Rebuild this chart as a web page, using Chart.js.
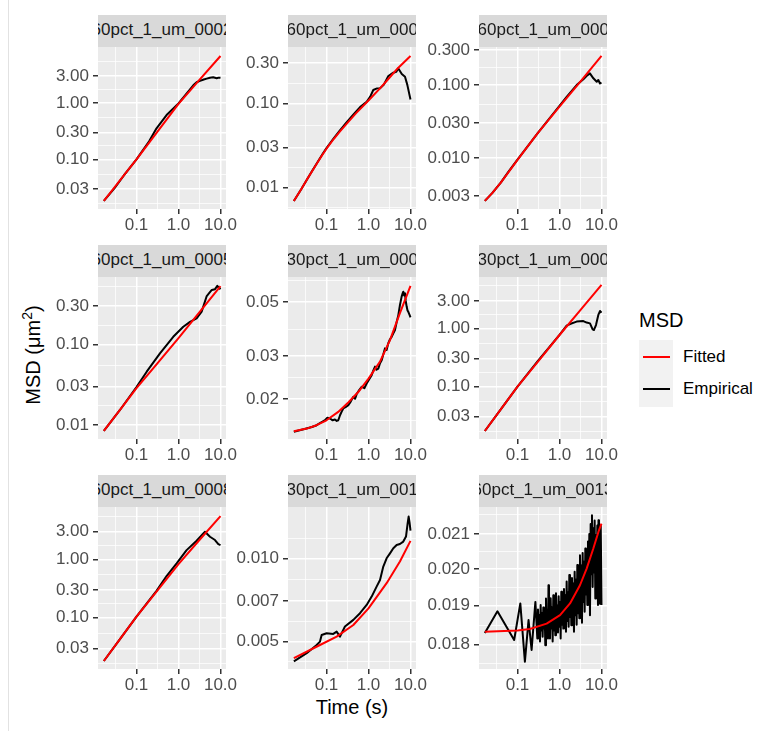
<!DOCTYPE html>
<html><head><meta charset="utf-8">
<script src="https://cdn.jsdelivr.net/npm/chart.js@4.4.1/dist/chart.umd.min.js"></script>
<style>
html,body{margin:0;padding:0;background:#fff;}
body{width:763px;height:731px;position:relative;overflow:hidden;font-family:"Liberation Sans",Arial,Helvetica,sans-serif;}
.strip{position:absolute;height:32px;background:#D9D9D9;overflow:hidden;display:flex;justify-content:center;align-items:center;color:#1A1A1A;font-size:17px;white-space:nowrap;box-sizing:border-box;padding-bottom:2px;z-index:2;}
.strip span{flex:none;}
canvas{position:absolute;z-index:1;}
.txt{position:absolute;white-space:nowrap;}
</style></head><body>
<div style="position:absolute;left:8px;top:0;width:1px;height:731px;background:#E2E2E2;"></div>
<script>
// ---------------- data ----------------
const panelLabels = ["60pct_1_um_0002","60pct_1_um_0003","60pct_1_um_0004",
                     "60pct_1_um_0005","30pct_1_um_0006","30pct_1_um_0007",
                     "60pct_1_um_0008","30pct_1_um_0010","60pct_1_um_0013"];

const xTicks = [0.1, 1, 10];
const xTickLabels = ["0.1", "1.0", "10.0"];
const xRange = [0.01212, 13.52];

// panel 1
const p1FitT = [0.0167, 0.03, 0.05, 0.1, 0.3, 1, 3, 10];
const p1FitV = [0.0184, 0.032, 0.052, 0.10, 0.294, 0.96, 2.45, 6.78];
const p1EmpT = [0.0167, 0.03, 0.05, 0.1, 0.2, 0.3, 0.52, 1.0, 1.57, 2.25, 2.7, 3.25, 4.0, 4.7, 5.6, 6.7, 8.1, 9.0, 10];
const p1EmpV = [0.0184, 0.031, 0.052, 0.10, 0.21, 0.356, 0.61, 0.98, 1.48, 2.05, 2.32, 2.45, 2.6, 2.69, 2.78, 2.84, 2.73, 2.8, 2.78];
const p1Ticks = [0.03, 0.1, 0.3, 1, 3];
const p1TickLabels = ["0.03", "0.10", "0.30", "1.00", "3.00"];
const p1Range = [0.01327, 9.77];

// panel 2
const p2FitT = [0.0167, 0.025, 0.0338, 0.045, 0.06, 0.08, 0.1, 0.15, 0.2, 0.3, 0.5, 1, 2, 3, 5, 10];
const p2FitV = [0.00698, 0.0096, 0.0124, 0.0156, 0.0196, 0.0246, 0.029, 0.038, 0.0453, 0.057, 0.076, 0.108, 0.155, 0.195, 0.26, 0.363];
const p2EmpT = [0.0167, 0.025, 0.0338, 0.045, 0.06, 0.08, 0.1, 0.15, 0.2, 0.3, 0.45, 0.63, 0.905, 1.1, 1.3, 1.6, 1.88, 2.3, 2.97, 3.9, 4.6, 5.1, 6.2, 7.4, 8.4, 10];
const p2EmpV = [0.00698, 0.0096, 0.0124, 0.0157, 0.0198, 0.0249, 0.0295, 0.0388, 0.0465, 0.0595, 0.075, 0.09, 0.104, 0.12, 0.1435, 0.15, 0.151, 0.165, 0.21, 0.23, 0.235, 0.26, 0.222, 0.206, 0.165, 0.111];
const p2Ticks = [0.01, 0.03, 0.1, 0.3];
const p2TickLabels = ["0.01", "0.03", "0.10", "0.30"];
const p2Range = [0.00561, 0.463];

// panel 3
const p3FitT = [0.0167, 0.025, 0.04, 0.06, 0.1, 0.3, 1, 3, 10];
const p3FitV = [0.00258, 0.0033, 0.0046, 0.0063, 0.0094, 0.0218, 0.0505, 0.1076, 0.25];
const p3EmpT = [0.0167, 0.025, 0.04, 0.06, 0.1, 0.3, 1, 1.48, 2.56, 3.7, 4.4, 5.3, 6.4, 7.7, 8.4, 9.2, 10];
const p3EmpV = [0.00258, 0.0033, 0.0046, 0.0064, 0.0095, 0.0218, 0.052, 0.069, 0.1, 0.12, 0.133, 0.1445, 0.1236, 0.111, 0.117, 0.105, 0.1077];
const p3Ticks = [0.003, 0.01, 0.03, 0.1, 0.3];
const p3TickLabels = ["0.003", "0.010", "0.030", "0.100", "0.300"];
const p3Range = [0.0020, 0.332];

// panel 4
const p4FitT = [0.0167, 0.04, 0.1, 0.3, 1, 3, 10];
const p4FitV = [0.0084, 0.0152, 0.0285, 0.0562, 0.119, 0.242, 0.528];
const p4EmpT = [0.0167, 0.04, 0.1, 0.175, 0.362, 0.75, 1.3, 1.88, 2.7, 3.56, 4.7, 6.2, 7.4, 8.4, 10];
const p4EmpV = [0.0084, 0.0152, 0.0295, 0.0457, 0.0773, 0.124, 0.165, 0.19, 0.21, 0.254, 0.397, 0.472, 0.483, 0.53, 0.483];
const p4Ticks = [0.01, 0.03, 0.1, 0.3];
const p4TickLabels = ["0.01", "0.03", "0.10", "0.30"];
const p4Range = [0.00668, 0.684];

// panel 5
const p5FitT = [0.0167, 0.034, 0.058, 0.1, 0.19, 0.33, 0.57, 1, 1.88, 3.25, 5.6, 10];
const p5FitV = [0.0148, 0.01517, 0.01566, 0.0164, 0.01775, 0.0194, 0.0214, 0.0243, 0.0285, 0.0349, 0.045, 0.0582];
const p5EmpT = [0.0167, 0.03, 0.045, 0.0584, 0.075, 0.092, 0.105, 0.121, 0.14, 0.159, 0.175, 0.191, 0.21, 0.23, 0.251, 0.29, 0.331, 0.38, 0.436, 0.48, 0.523, 0.6, 0.687, 0.8, 0.904, 1.05, 1.19, 1.3, 1.43, 1.55, 1.71, 1.88, 2.06, 2.25, 2.47, 2.7, 2.96, 3.25, 3.56, 3.9, 4.27, 4.7, 5.13, 5.6, 6.15, 6.45, 6.74, 7.05, 7.39, 7.7, 8.1, 8.5, 8.87, 9.4, 10];
const p5EmpV = [0.01472, 0.0151, 0.0154, 0.01566, 0.0161, 0.01641, 0.0168, 0.01668, 0.0164, 0.01652, 0.0163, 0.01641, 0.0172, 0.0178, 0.01833, 0.0186, 0.01892, 0.0196, 0.02047, 0.0201, 0.021, 0.0218, 0.0225, 0.0222, 0.0232, 0.0242, 0.0251, 0.0262, 0.0272, 0.0264, 0.0267, 0.0281, 0.0289, 0.0305, 0.0323, 0.0318, 0.0339, 0.0352, 0.036, 0.0372, 0.0384, 0.0415, 0.0442, 0.0485, 0.0526, 0.0541, 0.0551, 0.0532, 0.0543, 0.0505, 0.0479, 0.0462, 0.0456, 0.0445, 0.0433];
const p5Ticks = [0.02, 0.03, 0.05];
const p5TickLabels = ["0.02", "0.03", "0.05"];
const p5Range = [0.01375, 0.0633];

// panel 6
const p6FitT = [0.0167, 0.04, 0.1, 0.3, 1, 3, 10];
const p6FitV = [0.0169, 0.0401, 0.099, 0.264, 0.774, 2.0, 5.68];
const p6EmpT = [0.0167, 0.04, 0.1, 0.3, 1, 1.48, 1.78, 2.56, 3.69, 4.43, 5.32, 6.15, 6.62, 7.39, 8.4, 9.2, 10];
const p6EmpV = [0.0169, 0.0401, 0.099, 0.27, 0.78, 1.12, 1.2, 1.32, 1.35, 1.27, 1.23, 0.97, 0.945, 1.15, 1.72, 2.01, 1.88];
const p6Ticks = [0.03, 0.1, 0.3, 1, 3];
const p6TickLabels = ["0.03", "0.10", "0.30", "1.00", "3.00"];
const p6Range = [0.0123, 7.8];

// panel 7
const p7FitT = [0.0167, 0.04, 0.1, 0.3, 1, 3, 10];
const p7FitV = [0.01816, 0.0427, 0.1045, 0.282, 0.835, 2.08, 5.57];
const p7EmpT = [0.0167, 0.04, 0.1, 0.3, 0.52, 0.904, 1.56, 2.7, 4.27, 5.62, 7.39, 8.87, 10];
const p7EmpV = [0.01816, 0.0427, 0.1045, 0.29, 0.521, 0.859, 1.45, 2.1, 3.0, 2.46, 2.16, 1.84, 1.77];
const p7Ticks = [0.03, 0.1, 0.3, 1, 3];
const p7TickLabels = ["0.03", "0.10", "0.30", "1.00", "3.00"];
const p7Range = [0.01323, 7.96];

// panel 8
const p8FitT = [0.0167, 0.07, 0.1745, 0.4355, 1, 2.7, 5.6, 10];
const p8FitV = [0.004355, 0.00486, 0.00521, 0.00574, 0.00659, 0.00813, 0.00973, 0.01156];
const p8EmpT = [0.0167, 0.0337, 0.0584, 0.07, 0.0767, 0.101, 0.145, 0.1745, 0.2096, 0.275, 0.4355, 0.627, 0.904, 1.19, 1.56, 1.88, 2.25, 2.7, 3.25, 3.9, 4.68, 5.6, 6.74, 7.81, 8.55, 9.03, 9.55, 10];
const p8EmpV = [0.00424, 0.00454, 0.00486, 0.0050, 0.00528, 0.00536, 0.00533, 0.00543, 0.00521, 0.00567, 0.00599, 0.00633, 0.00678, 0.00727, 0.0079, 0.00835, 0.00933, 0.0100, 0.01042, 0.01087, 0.01117, 0.01126, 0.01149, 0.01198, 0.01338, 0.01415, 0.01338, 0.01259];
const p8Ticks = [0.005, 0.007, 0.01];
const p8TickLabels = ["0.005", "0.007", "0.010"];
const p8Range = [0.00398, 0.01532];

// panel 9
const p9FitT = [0.0167, 0.1, 0.197, 0.494, 1.03, 1.78, 3.07, 4.43, 6.39, 8.48, 10];
const p9FitV = [0.01832, 0.01835, 0.01839, 0.01853, 0.01875, 0.01906, 0.01955, 0.02001, 0.02058, 0.02107, 0.02131];
const p9EmpT = [0.0167, 0.0333, 0.0833, 0.1167, 0.15, 0.1833, 0.2167, 0.2667,
  0.2964, 0.3075, 0.3189, 0.3308, 0.3431, 0.3559, 0.3691, 0.3828, 0.3971, 0.4119, 0.4272, 0.4431, 0.4596, 0.4767, 0.4944, 0.5128, 0.5319, 0.5467, 0.5619, 0.5775,
  0.5936, 0.6157, 0.6386, 0.6624, 0.6871, 0.7127, 0.7392, 0.7667, 0.7953, 0.8249, 0.8555, 0.8874, 0.9204, 0.9547, 0.9902, 1.0271, 1.0653, 1.1049, 1.1461, 1.1887,
  1.2329, 1.2788, 1.3264, 1.3758, 1.427, 1.4801, 1.5352, 1.5923, 1.6516, 1.713, 1.7769, 1.8431, 1.9116, 1.9828,
  2.0566, 2.1331, 2.2125, 2.2949, 2.3803, 2.4689, 2.5607, 2.656, 2.7551, 2.8577, 2.964,
  3.0743, 3.1887, 3.3074, 3.4307, 3.5584, 3.6908, 3.8282, 3.9707, 4.1185, 4.2717, 4.4307, 4.5957, 4.7668, 4.9442,
  5.1283, 5.3192, 5.5173, 5.7225, 5.9356, 6.1566, 6.3858, 6.6235, 6.8701, 7.1258, 7.3911, 7.6662, 7.9514, 8.2475, 8.4763, 8.7124, 8.9546, 9.2034, 9.5935, 10];
const p9EmpV = [0.01829, 0.01885, 0.01811, 0.01906, 0.01757, 0.01862, 0.01786, 0.0191,
  0.01815, 0.0189, 0.0183, 0.01875, 0.01807, 0.01902, 0.01835, 0.0188, 0.01819, 0.01895, 0.0184, 0.01884, 0.01798, 0.01919, 0.0183, 0.0189, 0.01815, 0.01955, 0.01845, 0.019,
  0.01815, 0.0192, 0.0184, 0.01895, 0.01807, 0.01928, 0.01835, 0.01905, 0.01823, 0.01933, 0.0185, 0.019, 0.0183, 0.01925, 0.01845, 0.0191, 0.01815, 0.01937, 0.0185, 0.01915,
  0.0184, 0.01945, 0.01855, 0.01928, 0.01832, 0.01965, 0.0186, 0.01935, 0.01845, 0.01983, 0.0187, 0.0195, 0.01849, 0.01975,
  0.01865, 0.0196, 0.01832, 0.01992, 0.01875, 0.0197, 0.0185, 0.02011, 0.0188, 0.0199, 0.01867,
  0.02039, 0.019, 0.0201, 0.01855, 0.02045, 0.0191, 0.0202, 0.01884, 0.02058, 0.0193, 0.0204, 0.01902, 0.02078, 0.01945,
  0.021, 0.01875, 0.0213, 0.01985, 0.02156, 0.0195, 0.02117, 0.0199, 0.0214, 0.01919, 0.02097, 0.0197, 0.02125, 0.01902, 0.02141, 0.0196, 0.0211, 0.01905, 0.02125, 0.01902];
const p9Ticks = [0.018, 0.019, 0.02, 0.021];
const p9TickLabels = ["0.018", "0.019", "0.020", "0.021"];
const p9Range = [0.01739, 0.02181];

// ---------------- layout ----------------
const COLS = [98, 288, 479];
const ROWS = [15, 245, 475];
const PW = 128, PH = 162, SH = 32;
const YW = 70, PT = 18, PR = 28, XH = 34;
const STRIP_SHIFT = [0, 5, 5, 0, 5, 5, 0, 5, 0];
const FONT = '"Liberation Sans", Arial, Helvetica, sans-serif';

Chart.defaults.font.family = FONT;

const panels = [
  [p1FitT, p1FitV, p1EmpT, p1EmpV, p1Ticks, p1TickLabels, p1Range],
  [p2FitT, p2FitV, p2EmpT, p2EmpV, p2Ticks, p2TickLabels, p2Range],
  [p3FitT, p3FitV, p3EmpT, p3EmpV, p3Ticks, p3TickLabels, p3Range],
  [p4FitT, p4FitV, p4EmpT, p4EmpV, p4Ticks, p4TickLabels, p4Range],
  [p5FitT, p5FitV, p5EmpT, p5EmpV, p5Ticks, p5TickLabels, p5Range],
  [p6FitT, p6FitV, p6EmpT, p6EmpV, p6Ticks, p6TickLabels, p6Range],
  [p7FitT, p7FitV, p7EmpT, p7EmpV, p7Ticks, p7TickLabels, p7Range],
  [p8FitT, p8FitV, p8EmpT, p8EmpV, p8Ticks, p8TickLabels, p8Range],
  [p9FitT, p9FitV, p9EmpT, p9EmpV, p9Ticks, p9TickLabels, p9Range]
];

// ggplot-like minor breaks: midpoints (in log space) between majors, extended one step
function minorBreaks(majors, lo, hi) {
  const b = majors.map(v => Math.log10(v));
  const bd = b[1] - b[0];
  const L0 = Math.log10(lo), L1 = Math.log10(hi);
  if (L0 < b[0]) b.unshift(b[0] - bd);
  if (L1 > b[b.length - 1]) b.push(b[b.length - 1] + bd);
  const out = [];
  for (let i = 0; i < b.length - 1; i++) {
    const m = (b[i] + b[i + 1]) / 2;
    if (m > L0 && m < L1) out.push(Math.pow(10, m));
  }
  return out;
}
function tickList(majors, labels, lo, hi) {
  const t = majors.map((v, i) => ({value: v, lbl: labels[i], minor: false}));
  minorBreaks(majors, lo, hi).forEach(v => t.push({value: v, lbl: '', minor: true}));
  return t.sort((a, b) => a.value - b.value);
}

const bgPlugin = {
  id: 'panelBg',
  beforeDraw(chart) {
    const a = chart.chartArea, c = chart.ctx;
    c.save();
    c.fillStyle = '#EBEBEB';
    c.fillRect(a.left, a.top, a.right - a.left, a.bottom - a.top);
    c.restore();
  }
};

function gridOpts() {
  return {
    drawOnChartArea: true,
    drawTicks: true,
    tickLength: 5,
    color: '#FFFFFF',
    lineWidth: ctx => (ctx.tick && ctx.tick.minor) ? 0.75 : 1.5,
    tickColor: ctx => (ctx.tick && ctx.tick.minor) ? 'rgba(0,0,0,0)' : '#333333',
    tickWidth: 1.5
  };
}

panels.forEach((p, i) => {
  const [fT, fV, eT, eV, yT, yL, yR] = p;
  const col = i % 3, row = Math.floor(i / 3);
  const plotL = COLS[col], plotT = ROWS[row] + SH;

  // strip
  const s = document.createElement('div');
  s.className = 'strip';
  s.style.left = plotL + 'px';
  s.style.top = ROWS[row] + 'px';
  s.style.width = PW + 'px';
  const sp = document.createElement('span');
  sp.textContent = panelLabels[i];
  sp.style.transform = 'translateX(' + STRIP_SHIFT[i] + 'px)';
  s.appendChild(sp);
  document.body.appendChild(s);

  const cv = document.createElement('canvas');
  cv.width = YW + PW + PR;
  cv.height = PT + PH + XH;
  cv.style.left = (plotL - YW) + 'px';
  cv.style.top = (plotT - PT) + 'px';
  document.body.appendChild(cv);

  const xt = tickList(xTicks, xTickLabels, xRange[0], xRange[1]);
  const yt = tickList(yT, yL, yR[0], yR[1]);

  new Chart(cv, {
    type: 'line',
    data: {
      datasets: [
        {label: 'Fitted', data: fT.map((t, k) => ({x: t, y: fV[k]})), borderColor: '#FF0000',
         borderWidth: 2, pointRadius: 0, tension: 0, order: 0, borderJoinStyle: 'round', borderCapStyle: 'butt'},
        {label: 'Empirical', data: eT.map((t, k) => ({x: t, y: eV[k]})), borderColor: '#000000',
         borderWidth: 2, pointRadius: 0, tension: 0, order: 1, borderJoinStyle: 'round', borderCapStyle: 'butt'}
      ]
    },
    options: {
      responsive: false, animation: false, devicePixelRatio: 1,
      layout: {padding: {top: PT, right: PR, left: 0, bottom: 0}},
      plugins: {legend: {display: false}, tooltip: {enabled: false}},
      events: [],
      scales: {
        x: {
          type: 'logarithmic', min: xRange[0], max: xRange[1], bounds: 'data', offset: false,
          afterBuildTicks: sc => { sc.ticks = xt.map(o => Object.assign({}, o)); },
          afterFit: sc => { sc.height = XH; },
          border: {display: false},
          grid: gridOpts(),
          ticks: {autoSkip: false, maxRotation: 0, padding: 1, color: '#4D4D4D',
                  font: {size: 17, family: FONT}, major: {enabled: false},
                  callback: (v, idx, ticks) => ticks[idx].lbl}
        },
        y: {
          type: 'logarithmic', min: yR[0], max: yR[1], bounds: 'data', offset: false,
          afterBuildTicks: sc => { sc.ticks = yt.map(o => Object.assign({}, o)); },
          afterFit: sc => { sc.width = YW; },
          border: {display: false},
          grid: gridOpts(),
          ticks: {autoSkip: false, padding: 4, color: '#4D4D4D',
                  font: {size: 17, family: FONT}, major: {enabled: false},
                  callback: (v, idx, ticks) => ticks[idx].lbl}
        }
      }
    },
    plugins: [bgPlugin]
  });
});
</script>

<div class="txt" style="left:252px;top:697px;width:200px;text-align:center;font-size:20px;line-height:20px;color:#000;">Time (s)</div>
<div class="txt" style="left:-67px;top:343px;width:200px;height:24px;line-height:24px;text-align:center;font-size:20px;color:#000;transform:rotate(-90deg);">MSD (μm<sup style="font-size:14px;line-height:0;vertical-align:8px;">2</sup>)</div>

<div class="txt" style="left:639px;top:310px;font-size:20px;line-height:20px;color:#000;">MSD</div>
<div style="position:absolute;left:639px;top:340px;width:34px;height:67px;background:#F2F2F2;"></div>
<div style="position:absolute;left:643px;top:355.7px;width:27px;height:2px;background:#FF0000;"></div>
<div style="position:absolute;left:643px;top:388.3px;width:27px;height:2px;background:#000000;"></div>
<div class="txt" style="left:683px;top:346.7px;font-size:17px;line-height:20px;color:#000;">Fitted</div>
<div class="txt" style="left:683px;top:379.3px;font-size:17px;line-height:20px;color:#000;">Empirical</div>
</body></html>
